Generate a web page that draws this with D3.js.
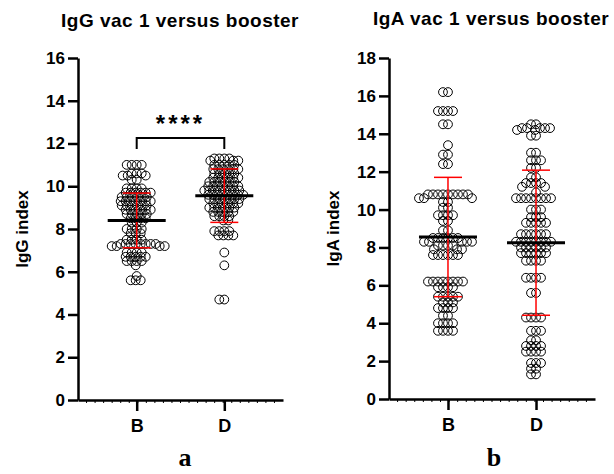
<!DOCTYPE html>
<html>
<head>
<meta charset="utf-8">
<script src="https://cdn.jsdelivr.net/npm/d3@7"></script>
<style>
  body { margin: 0; background: #fff; }
  svg text { font-family: "Liberation Sans", Arial, sans-serif; font-weight: bold; fill: #000; }
</style>
</head>
<body>
<div id="chart"></div>
<script>
//Datos
const groups = ['B', 'D'];

const iggB = [11.0,11.0,11.0,11.0, 10.6,10.6,10.6, 10.5,10.5,10.5, 10.3,10.3,
  9.9,9.9,9.9,9.9, 9.7,9.7,9.7,9.7,9.7,9.7, 9.5,9.5,9.5,9.5,9.5,9.5,
  9.3,9.3,9.3,9.3,9.3,9.3,9.3, 9.1,9.1,9.1,9.1,9.1,9.1, 8.9,8.9,8.9,8.9,8.9,8.9,
  8.7,8.7,8.7,8.7,8.7, 8.5,8.5,8.5,8.5, 8.3,8.3,8.3, 8.0,8.0,8.0,8.0, 7.8,7.8,7.8,
  7.5,7.5,7.5,7.5, 7.3,7.3,7.3,7.3,7.3,7.3,7.3,7.3, 7.2,7.2,7.2,7.2,
  6.9,6.9,6.9,6.9, 6.7,6.7,6.7,6.7,6.7, 6.5,6.5,6.5,6.5, 6.3, 5.8, 5.6,5.6,5.6];

const iggD = [11.3,11.3,11.3,11.3, 11.2,11.2,11.2, 11.0,11.0,11.0,11.0,11.0,
  10.8,10.8,10.8,10.8,10.8,10.8, 10.6,10.6,10.6,10.6,10.6, 10.4,10.4,10.4,10.4,10.4,10.4,
  10.2,10.2,10.2,10.2,10.2,10.2, 10.0,10.0,10.0,10.0,10.0,10.0,10.0,
  9.8,9.8,9.8,9.8,9.8,9.8,9.8,9.8, 9.6,9.6,9.6,9.6,9.6,9.6,9.6,9.6,
  9.4,9.4,9.4,9.4,9.4,9.4,9.4, 9.2,9.2,9.2,9.2,9.2,9.2, 9.0,9.0,9.0,9.0,9.0,9.0,
  8.8,8.8,8.8,8.8,8.8, 8.6,8.6,8.6,8.6, 8.4,8.4, 7.9,7.9,7.9,7.9, 7.7,7.7,7.7,7.7,
  6.9, 6.3, 4.7,4.7];

const igaB = [16.2,16.2, 15.2,15.2,15.2,15.2, 14.5,14.5, 13.4, 12.9,12.9, 12.4,12.4,
  10.8,10.8,10.8,10.8,10.8,10.8,10.8,10.8,10.8, 10.6,10.6,10.6, 10.4,10.4,
  10.1,10.1, 9.7,9.7,9.7,9.7, 9.4,9.4, 8.9,8.9, 8.5,8.5,8.5,8.5,8.5,8.5,
  8.3,8.3,8.3,8.3,8.3, 8.1,8.1,8.1,8.1, 7.9,7.9,7.9, 7.6,7.6,7.6,7.6,7.6,7.6,
  6.2,6.2,6.2,6.2,6.2,6.2,6.2,6.2, 5.9,5.9,5.9,5.9, 5.4,5.4,5.4,5.4,5.4,
  5.1,5.1,5.1, 4.8,4.8,4.8,4.8, 4.4,4.4, 4.0,4.0,4.0,4.0, 3.6,3.6,3.6,3.6];

const igaD = [14.5,14.5, 14.3,14.3,14.3,14.3,14.3, 14.2,14.2, 13.9,13.9, 13.0,13.0,
  12.6,12.6,12.6, 12.2,12.2, 11.7,11.7, 11.4,11.4,11.4,11.4, 11.2,11.2, 10.9,
  10.6,10.6,10.6,10.6,10.6,10.6,10.6,10.6, 10.0,10.0,10.0, 9.6,9.6,9.6,
  9.3,9.3,9.3,9.3,9.3, 8.7,8.7,8.7,8.7,8.7,8.7, 8.3,8.3,8.3,8.3,8.3,8.3,8.3,8.3,
  8.0,8.0,8.0,8.0,8.0,8.0, 7.7,7.7,7.7,7.7,7.7,7.7, 7.3,7.3,7.3,7.3,
  6.4,6.4,6.4,6.4, 5.6,5.6, 4.3,4.3,4.3,4.3, 3.6,3.6,3.6, 3.1,3.1,
  2.8,2.8,2.8,2.8, 2.5,2.5,2.5,2.5, 1.9,1.9,1.9, 1.6,1.6, 1.3,1.3];

//Media y desviacion estandar
const iggMean = [8.4, 9.56];
const iggSd = [1.28, 1.25];
const igaMean = [8.55, 8.25];
const igaSd = [3.15, 3.83];

const iggTicks = [0, 2, 4, 6, 8, 10, 12, 14, 16];
const igaTicks = [0, 2, 4, 6, 8, 10, 12, 14, 16, 18];

let svg = d3.select('#chart')
    .append('svg')
    .attr('width', 614)
    .attr('height', 474);

function drawPanel(opts) {
    let g = svg.append('g');

    let x = d3.scalePoint()
        .domain(groups)
        .range([opts.left, opts.right])
        .padding(0.67);

    let y = d3.scaleLinear()
        .domain([0, opts.max])
        .range([opts.bottom, opts.top]);

    //Eje Y
    let yAxis = g.append('g')
        .attr('transform', 'translate(' + opts.left + ',0)')
        .call(d3.axisLeft(y).tickValues(opts.ticks).tickSize(10).tickSizeOuter(0).tickPadding(3));
    yAxis.selectAll('path, line').attr('stroke', '#000').attr('stroke-width', 2.5);
    yAxis.selectAll('text').style('font-size', '17px');

    //Eje X
    let xAxis = g.append('g')
        .attr('transform', 'translate(0,' + opts.bottom + ')')
        .call(d3.axisBottom(x).tickSize(11).tickSizeOuter(0).tickPadding(8));
    xAxis.selectAll('path, line').attr('stroke', '#000').attr('stroke-width', 2.5);
    xAxis.selectAll('text').style('font-size', '18px');

    //marcas menores del eje x
    let minor = d3.scaleLinear().domain([0, 24]).range([opts.left, opts.right]);
    g.append('g')
        .selectAll('line')
        .data(d3.range(1, 24))
        .enter()
        .append('line')
        .attr('x1', d => minor(d)).attr('x2', d => minor(d))
        .attr('y1', opts.bottom).attr('y2', opts.bottom + 3)
        .attr('stroke', '#000').attr('stroke-width', 1);

    //Puntos (beeswarm)
    opts.series.forEach(function(values, i) {
        let cx = x(groups[i]);
        let placed = [];
        let sorted = values.slice().sort((a, b) => b - a);
        sorted.forEach(function(v) {
            let py = y(v);
            let off = 0;
            for (let k = 0; k < 200; k++) {
                let cand = (k % 2 === 0 ? 1 : -1) * Math.ceil(k / 2);
                let ok = placed.every(p => Math.hypot(p.x - cand, p.y - py) >= opts.gap);
                if (ok) { off = cand; break; }
            }
            placed.push({x: off, y: py});
        });
        g.append('g')
            .selectAll('circle')
            .data(placed)
            .enter()
            .append('circle')
            .attr('cx', d => cx + d.x)
            .attr('cy', d => d.y)
            .attr('r', 4.4)
            .attr('fill', 'none')
            .attr('stroke', '#000')
            .attr('stroke-width', 1);

        //desviacion estandar
        let m = opts.mean[i], s = opts.sd[i];
        let sdG = g.append('g').attr('stroke', '#ff0000').attr('stroke-width', 1.5);
        sdG.append('line').attr('x1', cx).attr('x2', cx).attr('y1', y(m - s)).attr('y2', y(m + s));
        sdG.append('line').attr('x1', cx - 14).attr('x2', cx + 14).attr('y1', y(m + s)).attr('y2', y(m + s));
        sdG.append('line').attr('x1', cx - 14).attr('x2', cx + 14).attr('y1', y(m - s)).attr('y2', y(m - s));

        //media
        g.append('line')
            .attr('x1', cx - 29).attr('x2', cx + 29)
            .attr('y1', y(m)).attr('y2', y(m))
            .attr('stroke', '#000').attr('stroke-width', 3);
    });

    //Titulo
    g.append('text')
        .attr('x', opts.titleX).attr('y', opts.titleY)
        .attr('text-anchor', 'middle')
        .style('font-size', '19px')
        .style('letter-spacing', '0.5px')
        .text(opts.title);

    //Etiqueta eje Y
    g.append('text')
        .attr('transform', 'translate(' + opts.labelX + ',' + (opts.top + opts.bottom) / 2 + ') rotate(-90)')
        .attr('text-anchor', 'middle')
        .style('font-size', '17px')
        .text(opts.yLabel);

    //Letra del panel
    g.append('text')
        .attr('x', opts.letterX).attr('y', opts.letterY)
        .attr('text-anchor', 'middle')
        .style('font-family', '"Liberation Serif", "Times New Roman", serif')
        .style('font-size', '26px')
        .text(opts.letter);

    return {x: x, y: y, g: g};
}

let left = drawPanel({
    left: 78, right: 283, top: 58, bottom: 400, max: 16, ticks: iggTicks,
    series: [iggB, iggD], mean: iggMean, sd: iggSd, gap: 4.3,
    title: 'IgG vac 1 versus booster', titleX: 180, titleY: 27,
    yLabel: 'IgG index', labelX: 28, letter: 'a', letterX: 185, letterY: 466
});

let right = drawPanel({
    left: 389, right: 595, top: 58, bottom: 399, max: 18, ticks: igaTicks,
    series: [igaB, igaD], mean: igaMean, sd: igaSd, gap: 5,
    title: 'IgA vac 1 versus booster', titleX: 491, titleY: 25,
    yLabel: 'IgA index', labelX: 339, letter: 'b', letterX: 494, letterY: 466
});

//Significancia
let bx1 = left.x('B'), bx2 = left.x('D');
left.g.append('path')
    .attr('d', 'M' + bx1 + ',' + 149 + 'V' + 138 + 'H' + bx2 + 'V' + 149)
    .attr('fill', 'none')
    .attr('stroke', '#000')
    .attr('stroke-width', 2);
left.g.append('text')
    .attr('x', (bx1 + bx2) / 2).attr('y', 132)
    .attr('text-anchor', 'middle')
    .style('font-size', '24px')
    .style('letter-spacing', '3px')
    .text('****');
</script>
</body>
</html>
